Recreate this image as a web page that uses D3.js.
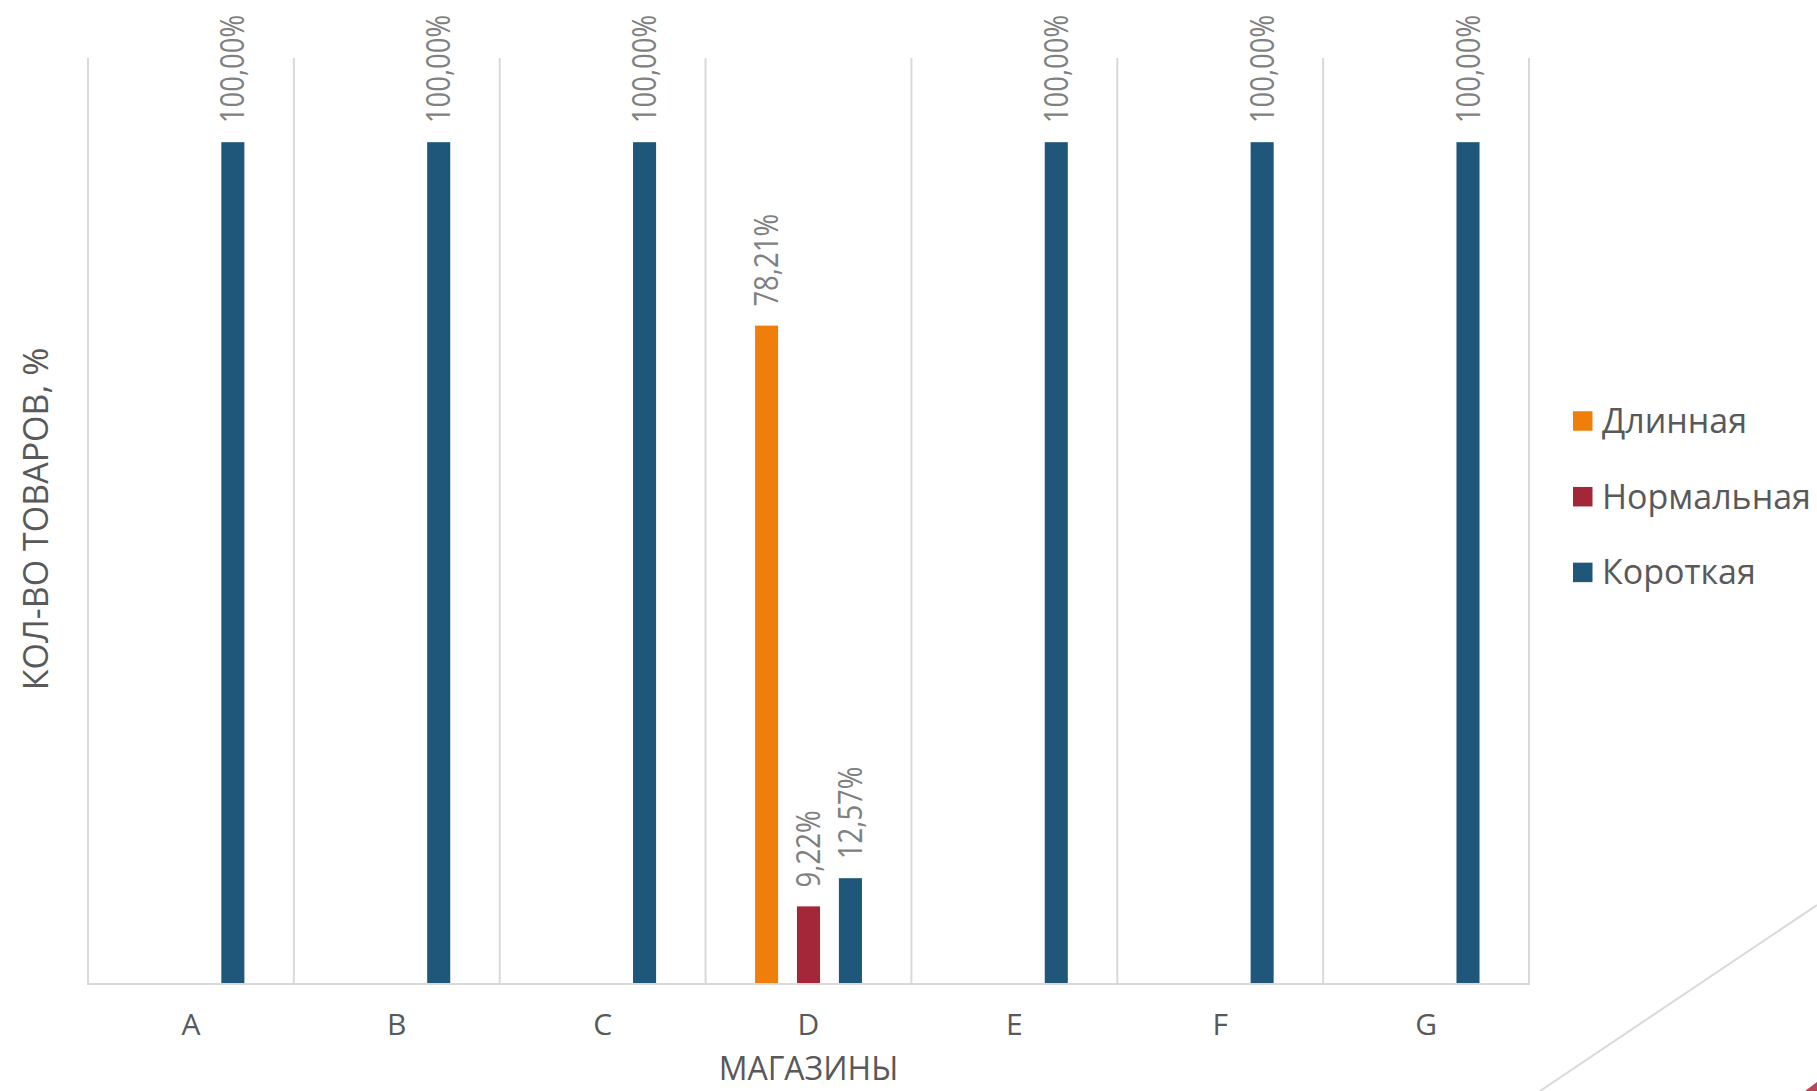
<!DOCTYPE html>
<html>
<head>
<meta charset="utf-8">
<script src="https://cdn.jsdelivr.net/npm/d3@7"></script>
<style>
  html, body { margin: 0; padding: 0; background: #ffffff; }
  svg { display: block; }
</style>
</head>
<body>
<svg id="chart" width="1817" height="1091"></svg>
<script>
const categories = ["A", "B", "C", "D", "E", "F", "G"];
const seriesNames = ["Длинная", "Нормальная", "Короткая"];
const valuesLong   = [null, null, null, 78.21, null, null, null];
const valuesNormal = [null, null, null, 9.22, null, null, null];
const valuesShort  = [100, 100, 100, 12.57, 100, 100, 100];
const seriesColors = ["#EF7F0A", "#A32739", "#1E5779"];
const xTitle = "МАГАЗИНЫ";
const yTitle = "КОЛ-ВО ТОВАРОВ, %";

(function () {
const seriesValues = [valuesLong, valuesNormal, valuesShort];
const fmt = v => v.toFixed(2).replace(".", ",") + "%";

const svg = d3.select("#chart");
const pLeft = 88, pRight = 1529, pTop = 58, pBottom = 984;

const x0 = d3.scaleBand().domain(categories).range([pLeft, pRight]).padding(0);
const x1 = d3.scaleBand().domain(seriesNames).range([0, x0.bandwidth()])
  .paddingInner(0.45).paddingOuter(1.18);
const y = d3.scaleLinear().domain([0, 110]).range([pBottom, pTop]);

const textFont = "'Open Sans', 'Noto Sans', sans-serif";

// vertical gridlines at category boundaries
const bounds = categories.map(c => x0(c)).concat([pRight]);
svg.append("g").selectAll("line").data(bounds).join("line")
  .attr("x1", d => d).attr("x2", d => d)
  .attr("y1", pTop).attr("y2", pBottom)
  .attr("stroke", "#d9d9d9").attr("stroke-width", 2);

// bars
const flat = [];
seriesNames.forEach((s, si) => {
  categories.forEach((c, ci) => {
    const v = seriesValues[si][ci];
    if (v !== null && v !== undefined) flat.push({s, si, c, v});
  });
});

svg.append("g").selectAll("rect").data(flat).join("rect")
  .attr("x", d => x0(d.c) + x1(d.s))
  .attr("width", x1.bandwidth())
  .attr("y", d => y(d.v))
  .attr("height", d => y(0) - y(d.v))
  .attr("fill", d => seriesColors[d.si]);

// data labels (slightly condensed along the text direction)
svg.append("g").selectAll("text").data(flat).join("text")
  .attr("transform", d => `translate(${x0(d.c) + x1(d.s) + x1.bandwidth() / 2},${y(d.v) - 19}) rotate(-90) scale(0.86,1)`)
  .attr("dy", "0.36em")
  .attr("text-anchor", "start")
  .attr("font-family", textFont)
  .attr("font-size", 32)
  .attr("fill", "#808080")
  .text(d => fmt(d.v));

// x axis baseline
svg.append("line")
  .attr("x1", pLeft - 1).attr("x2", pRight + 1)
  .attr("y1", pBottom).attr("y2", pBottom)
  .attr("stroke", "#d9d9d9").attr("stroke-width", 2);

// x axis tick labels
const xAxis = d3.axisBottom(x0).tickSize(0).tickPadding(0);
const gx = svg.append("g").attr("transform", `translate(0,${pBottom})`).call(xAxis);
gx.select(".domain").remove();
gx.selectAll("text")
  .attr("y", 51).attr("dy", 0)
  .attr("font-family", textFont)
  .attr("font-size", 30)
  .attr("fill", "#595959");

// axis titles
svg.append("text")
  .attr("x", (pLeft + pRight) / 2).attr("y", 1080)
  .attr("text-anchor", "middle")
  .attr("font-family", textFont).attr("font-size", 32)
  .attr("fill", "#595959")
  .text(xTitle);

svg.append("text")
  .attr("transform", `translate(36,${(pTop + pBottom) / 2 - 2}) rotate(-90)`)
  .attr("dy", "0.35em")
  .attr("text-anchor", "middle")
  .attr("font-family", textFont).attr("font-size", 34)
  .attr("fill", "#595959")
  .text(yTitle);

// legend
const legend = svg.append("g").selectAll("g").data(seriesNames).join("g")
  .attr("transform", (d, i) => `translate(1573,${421 + i * 75.7})`);
legend.append("rect")
  .attr("x", 0).attr("y", -9.75).attr("width", 19.5).attr("height", 19.5)
  .attr("fill", (d, i) => seriesColors[i]);
legend.append("text")
  .attr("x", 29).attr("dy", "0.35em")
  .attr("font-family", textFont).attr("font-size", 34)
  .attr("fill", "#595959")
  .text(d => d);

// decorative corner
svg.append("line")
  .attr("x1", 1540).attr("y1", 1091).attr("x2", 1817).attr("y2", 905)
  .attr("stroke", "#d9d9d9").attr("stroke-width", 2);
svg.append("polygon")
  .attr("points", "1817,1082 1817,1091 1805,1091")
  .attr("fill", "#b5485a");
})();
</script>
</body>
</html>
